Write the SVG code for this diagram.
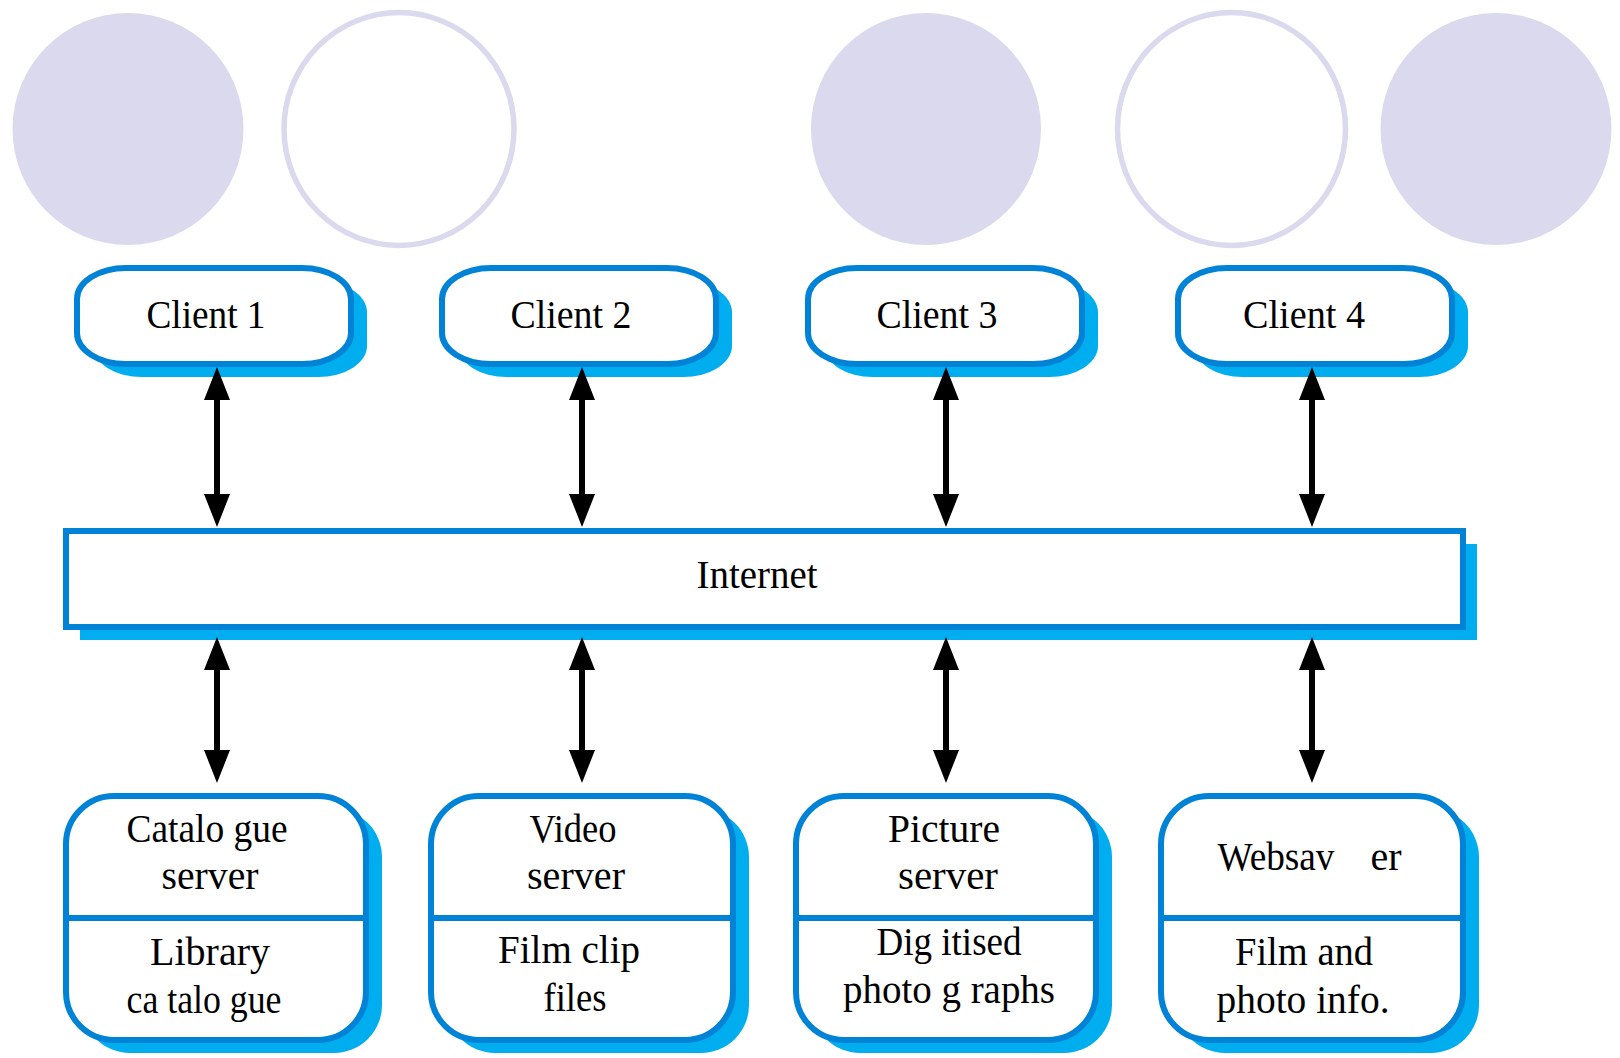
<svg xmlns="http://www.w3.org/2000/svg" width="1620" height="1058" viewBox="0 0 1620 1058">
  <style>
    .deco { fill: #dad9ed; }
    .ring { fill: none; stroke: #dad9ed; stroke-width: 5.5; }
    .shadow { fill: #00adef; }
    .box { fill: #ffffff; stroke: #0083d6; stroke-width: 6; }
    .divider { stroke: #0083d6; stroke-width: 6; }
    .label { font-family: "Liberation Serif", "Times New Roman", serif; font-size: 40px; fill: #000; text-anchor: middle; }
    .link { stroke: #000; stroke-width: 6; marker-start: url(#head); marker-end: url(#head); }
  </style>
  <defs>
    <marker id="head" viewBox="0 0 33 26" refX="20" refY="13" markerWidth="33" markerHeight="26" markerUnits="userSpaceOnUse" orient="auto-start-reverse">
      <path d="M0,0 L33,13 L0,26 z" fill="#000"/>
    </marker>
  </defs>

  <rect width="1620" height="1058" fill="#ffffff"/>

  <!-- decorative circles along the top -->
  <g id="decoration">
    <ellipse class="deco" cx="128" cy="129" rx="115.5" ry="116"/>
    <ellipse class="ring" cx="399" cy="129" rx="115" ry="116.5"/>
    <ellipse class="deco" cx="926" cy="129" rx="115" ry="116"/>
    <ellipse class="ring" cx="1231.5" cy="129" rx="114" ry="116.5"/>
    <ellipse class="deco" cx="1496" cy="129" rx="115.5" ry="116"/>
  </g>

  <!-- clients -->
  <g id="client1">
    <rect class="shadow" x="93" y="281" width="274" height="96" rx="49" ry="31"/>
    <rect class="box" x="77" y="268" width="274" height="96" rx="49" ry="31"/>
    <text class="label" x="206" y="328" textLength="119" lengthAdjust="spacingAndGlyphs">Client 1</text>
  </g>
  <g id="client2">
    <rect class="shadow" x="458" y="281" width="274" height="96" rx="49" ry="31"/>
    <rect class="box" x="442" y="268" width="274" height="96" rx="49" ry="31"/>
    <text class="label" x="571" y="328" textLength="121" lengthAdjust="spacingAndGlyphs">Client 2</text>
  </g>
  <g id="client3">
    <rect class="shadow" x="824" y="281" width="274" height="96" rx="49" ry="31"/>
    <rect class="box" x="808" y="268" width="274" height="96" rx="49" ry="31"/>
    <text class="label" x="937" y="328" textLength="121" lengthAdjust="spacingAndGlyphs">Client 3</text>
  </g>
  <g id="client4">
    <rect class="shadow" x="1194" y="281" width="274" height="96" rx="49" ry="31"/>
    <rect class="box" x="1178" y="268" width="274" height="96" rx="49" ry="31"/>
    <text class="label" x="1304" y="328" textLength="122" lengthAdjust="spacingAndGlyphs">Client 4</text>
  </g>

  <!-- internet bus -->
  <g id="internet">
    <rect class="shadow" x="80" y="544" width="1397" height="96"/>
    <rect class="box" x="66" y="531" width="1397" height="96"/>
    <text class="label" x="757" y="588" textLength="121" lengthAdjust="spacingAndGlyphs">Internet</text>
  </g>

  <!-- servers -->
  <g id="server1">
    <rect class="shadow" x="82" y="809" width="300" height="244" rx="48" ry="48"/>
    <rect class="box" x="66" y="796" width="300" height="244" rx="48" ry="48"/>
    <line class="divider" x1="66" y1="918" x2="366" y2="918"/>
    <text class="label" x="207" y="842" textLength="161" lengthAdjust="spacingAndGlyphs">Catalo gue</text>
    <text class="label" x="210" y="889" textLength="97" lengthAdjust="spacingAndGlyphs">server</text>
    <text class="label" x="210" y="965" textLength="120" lengthAdjust="spacingAndGlyphs">Library</text>
    <text class="label" x="204" y="1013" textLength="155" lengthAdjust="spacingAndGlyphs">ca talo gue</text>
  </g>
  <g id="server2">
    <rect class="shadow" x="447" y="809" width="302" height="244" rx="48" ry="48"/>
    <rect class="box" x="431" y="796" width="302" height="244" rx="48" ry="48"/>
    <line class="divider" x1="431" y1="918" x2="733" y2="918"/>
    <text class="label" x="573" y="842" textLength="87" lengthAdjust="spacingAndGlyphs">Video</text>
    <text class="label" x="576" y="889" textLength="98" lengthAdjust="spacingAndGlyphs">server</text>
    <text class="label" x="569" y="963" textLength="142" lengthAdjust="spacingAndGlyphs">Film clip</text>
    <text class="label" x="575" y="1011" textLength="63" lengthAdjust="spacingAndGlyphs">files</text>
  </g>
  <g id="server3">
    <rect class="shadow" x="812" y="809" width="300" height="244" rx="48" ry="48"/>
    <rect class="box" x="796" y="796" width="300" height="244" rx="48" ry="48"/>
    <line class="divider" x1="796" y1="918" x2="1096" y2="918"/>
    <text class="label" x="944" y="842" textLength="112" lengthAdjust="spacingAndGlyphs">Picture</text>
    <text class="label" x="948" y="889" textLength="100" lengthAdjust="spacingAndGlyphs">server</text>
    <text class="label" x="949" y="955" textLength="145" lengthAdjust="spacingAndGlyphs">Dig itised</text>
    <text class="label" x="949" y="1003" textLength="212" lengthAdjust="spacingAndGlyphs">photo g raphs</text>
  </g>
  <g id="server4">
    <rect class="shadow" x="1177" y="809" width="302" height="244" rx="48" ry="48"/>
    <rect class="box" x="1161" y="796" width="302" height="244" rx="48" ry="48"/>
    <line class="divider" x1="1161" y1="918" x2="1463" y2="918"/>
    <text class="label" y="870"><tspan x="1276" textLength="117" lengthAdjust="spacingAndGlyphs">Websav</tspan><tspan x="1386">er</tspan></text>
    <text class="label" x="1304" y="965" textLength="138" lengthAdjust="spacingAndGlyphs">Film and</text>
    <text class="label" x="1303" y="1013" textLength="173" lengthAdjust="spacingAndGlyphs">photo info.</text>
  </g>

  <!-- two-way links: clients to internet, internet to servers -->
  <g id="connectors">
    <line class="link" x1="217" y1="380" x2="217" y2="514"/>
    <line class="link" x1="582" y1="380" x2="582" y2="514"/>
    <line class="link" x1="946" y1="380" x2="946" y2="514"/>
    <line class="link" x1="1312" y1="380" x2="1312" y2="514"/>
    <line class="link" x1="217" y1="650" x2="217" y2="770"/>
    <line class="link" x1="582" y1="650" x2="582" y2="770"/>
    <line class="link" x1="946" y1="650" x2="946" y2="770"/>
    <line class="link" x1="1312" y1="650" x2="1312" y2="770"/>
  </g>
</svg>
